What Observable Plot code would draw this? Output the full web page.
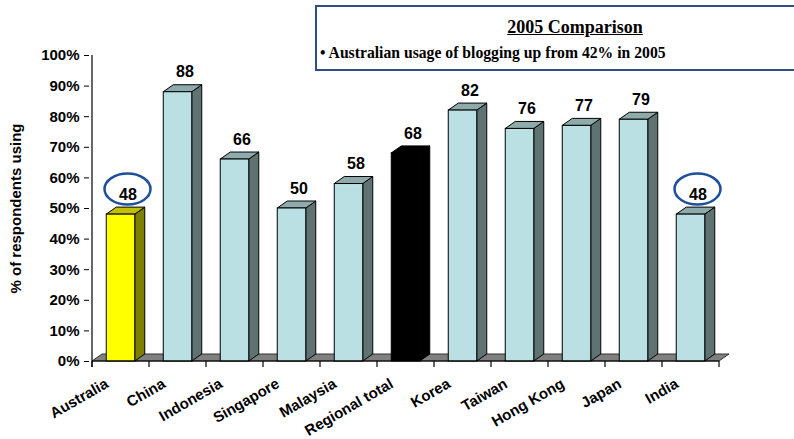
<!DOCTYPE html>
<html><head><meta charset="utf-8">
<script src="https://cdn.jsdelivr.net/npm/d3@7"></script>
<script src="https://cdn.jsdelivr.net/npm/@observablehq/plot@0.6"></script>
<style>
html,body{margin:0;padding:0;background:#fff;}
body{width:794px;height:439px;overflow:hidden;position:relative;}
#box{position:absolute;left:315px;top:5px;width:516px;height:62px;border:2px solid #2b4f86;font-family:"Liberation Serif","Times New Roman",serif;font-weight:bold;color:#000;box-sizing:content-box;}
#box .t{position:absolute;left:0;width:516px;top:10px;text-align:center;font-size:18px;text-decoration:underline;line-height:20px;}
#box .b{position:absolute;left:3px;top:37px;font-size:15.7px;line-height:18px;white-space:nowrap;}
</style></head>
<body>
<div id="chart"></div>
<div id="box"><div class="t">2005 Comparison</div><div class="b">• Australian usage of blogging up from 42% in 2005</div></div>
<script>
const categories = ["Australia","China","Indonesia","Singapore","Malaysia","Regional total","Korea","Taiwan","Hong Kong","Japan","India"];
const values = [48, 88, 66, 50, 58, 68, 82, 76, 77, 79, 48];
const circled = ["Australia","India"];
const highlighted = "Australia";
const totalCategory = "Regional total";
const yTicks = [0,10,20,30,40,50,60,70,80,90,100];
const yLabel = "% of respondents using";

const data = categories.map((c, i) => ({category: c, value: values[i]}));

const DX = 10, DY = -7;
const palettes = {
  normal: {front: "#bbe0e3", side: "#5f7373", top: "#8faaab"},
  highlight: {front: "#ffff00", side: "#808000", top: "#c0c000"},
  total: {front: "#000000", side: "#000000", top: "#000000"}
};

function bars3d(index, scales) {
  const g = d3.create("svg:g");
  const step = scales.x(categories[1]) - scales.x(categories[0]);
  const y0 = scales.y(0);
  const xs = scales.x(categories[0]);
  const xe = scales.x(categories[categories.length - 1]) + step;
  g.append("polygon")
    .attr("points", [[xs, y0], [xs + DX, y0 + DY], [xe + DX, y0 + DY], [xe, y0]].map(p => p.join(",")).join(" "))
    .attr("fill", "#808080").attr("stroke", "#333").attr("stroke-width", 1);
  for (const d of data) {
    const p = d.category === highlighted ? palettes.highlight : d.category === totalCategory ? palettes.total : palettes.normal;
    const x0 = scales.x(d.category) + step * 0.25;
    const x1 = x0 + step * 0.5;
    const yt = scales.y(d.value);
    g.append("polygon")
      .attr("points", [[x1, y0], [x1 + DX, y0 + DY], [x1 + DX, yt + DY], [x1, yt]].map(q => q.join(",")).join(" "))
      .attr("fill", p.side).attr("stroke", "#000").attr("stroke-width", 1);
    g.append("polygon")
      .attr("points", [[x0, yt], [x0 + DX, yt + DY], [x1 + DX, yt + DY], [x1, yt]].map(q => q.join(",")).join(" "))
      .attr("fill", p.top).attr("stroke", "#000").attr("stroke-width", 1);
    g.append("rect")
      .attr("x", x0).attr("y", yt).attr("width", x1 - x0).attr("height", y0 - yt)
      .attr("fill", p.front).attr("stroke", "#000").attr("stroke-width", 1);
  }
  return g.node();
}

function axesLines(index, scales) {
  const g = d3.create("svg:g").attr("stroke", "#000").attr("stroke-width", 1.2);
  const step = scales.x(categories[1]) - scales.x(categories[0]);
  const y0 = scales.y(0);
  const xs = scales.x(categories[0]);
  const xe = scales.x(categories[categories.length - 1]) + step;
  g.append("line").attr("x1", xs).attr("x2", xs).attr("y1", scales.y(100)).attr("y2", y0 + 6);
  g.append("line").attr("x1", xs).attr("x2", xe).attr("y1", y0).attr("y2", y0);
  for (let i = 0; i <= categories.length; i++) {
    const x = xs + i * step;
    g.append("line").attr("x1", x).attr("x2", x).attr("y1", y0).attr("y2", y0 + 6);
  }
  return g.node();
}

function ellipses(index, scales) {
  const g = d3.create("svg:g");
  const step = scales.x(categories[1]) - scales.x(categories[0]);
  for (const d of data.filter(d => circled.includes(d.category))) {
    g.append("ellipse")
      .attr("cx", scales.x(d.category) + step / 2 + 7)
      .attr("cy", scales.y(d.value) - 25)
      .attr("rx", 23).attr("ry", 15.5)
      .attr("fill", "none").attr("stroke", "#1d4f9b").attr("stroke-width", 2.5);
  }
  return g.node();
}

const chart = Plot.plot({
  width: 794,
  height: 439,
  marginLeft: 89,
  marginRight: 72,
  marginTop: 55,
  marginBottom: 78,
  style: {fontFamily: "'Liberation Sans', Arial, sans-serif", fontWeight: "bold", fontSize: "15px", color: "#000", background: "#fff"},
  x: {type: "band", domain: categories, padding: 0, axis: null},
  y: {domain: [0, 100]},
  marks: [
    bars3d,
    axesLines,
    Plot.axisY({ticks: yTicks, tickSize: 5, tickPadding: 5, tickFormat: d => d + "%", fontSize: 15, label: yLabel, labelAnchor: "center", labelArrow: false, labelOffset: 79}),
    Plot.text(categories, {x: d => d, text: d => d, frameAnchor: "bottom", rotate: -30, textAnchor: "end", lineAnchor: "middle", dx: -14, dy: 21, fontSize: 15, fontWeight: "bold", fill: "#000"}),
    Plot.text(data, {x: "category", y: "value", text: d => String(d.value), dx: 7, dy: -20, fontSize: 16, fontWeight: "bold", fill: "#000"}),
    ellipses
  ]
});
document.getElementById("chart").appendChild(chart);
</script>
</body></html>
